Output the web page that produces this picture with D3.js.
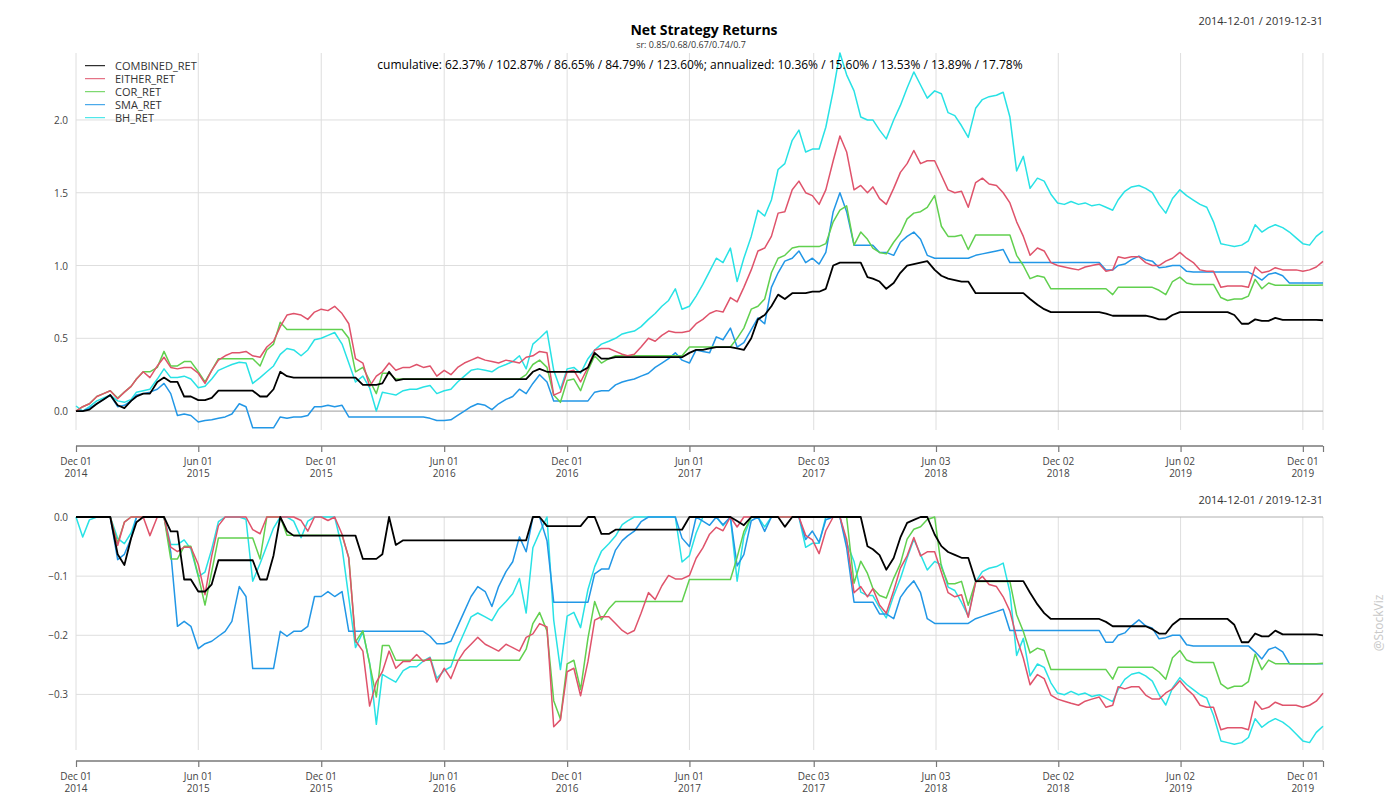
<!DOCTYPE html>
<html>
<head>
<meta charset="utf-8">
<script src="https://cdnjs.cloudflare.com/ajax/libs/d3/7.8.5/d3.min.js"></script>
<style>
body{margin:0;background:#fff;}
svg{display:block;font-family:"Open Sans","Noto Sans",sans-serif;}
</style>
</head>
<body>
<svg width="1400" height="800"></svg>
<script>
// sample dates (1st, 11th, 21st of every month)
var dates = [
"2014-12-01","2014-12-11","2014-12-21",
"2015-01-01","2015-01-11","2015-01-21","2015-02-01","2015-02-11","2015-02-21",
"2015-03-01","2015-03-11","2015-03-21","2015-04-01","2015-04-11","2015-04-21",
"2015-05-01","2015-05-11","2015-05-21","2015-06-01","2015-06-11","2015-06-21",
"2015-07-01","2015-07-11","2015-07-21","2015-08-01","2015-08-11","2015-08-21",
"2015-09-01","2015-09-11","2015-09-21","2015-10-01","2015-10-11","2015-10-21",
"2015-11-01","2015-11-11","2015-11-21","2015-12-01","2015-12-11","2015-12-21",
"2016-01-01","2016-01-11","2016-01-21","2016-02-01","2016-02-11","2016-02-21",
"2016-03-01","2016-03-11","2016-03-21","2016-04-01","2016-04-11","2016-04-21",
"2016-05-01","2016-05-11","2016-05-21","2016-06-01","2016-06-11","2016-06-21",
"2016-07-01","2016-07-11","2016-07-21","2016-08-01","2016-08-11","2016-08-21",
"2016-09-01","2016-09-11","2016-09-21","2016-10-01","2016-10-11","2016-10-21",
"2016-11-01","2016-11-11","2016-11-21","2016-12-01","2016-12-11","2016-12-21",
"2017-01-01","2017-01-11","2017-01-21","2017-02-01","2017-02-11","2017-02-21",
"2017-03-01","2017-03-11","2017-03-21","2017-04-01","2017-04-11","2017-04-21",
"2017-05-01","2017-05-11","2017-05-21","2017-06-01","2017-06-11","2017-06-21",
"2017-07-01","2017-07-11","2017-07-21","2017-08-01","2017-08-11","2017-08-21",
"2017-09-01","2017-09-11","2017-09-21","2017-10-01","2017-10-11","2017-10-21",
"2017-11-01","2017-11-11","2017-11-21","2017-12-01","2017-12-11","2017-12-21",
"2018-01-01","2018-01-11","2018-01-21","2018-02-01","2018-02-11","2018-02-21",
"2018-03-01","2018-03-11","2018-03-21","2018-04-01","2018-04-11","2018-04-21",
"2018-05-01","2018-05-11","2018-05-21","2018-06-01","2018-06-11","2018-06-21",
"2018-07-01","2018-07-11","2018-07-21","2018-08-01","2018-08-11","2018-08-21",
"2018-09-01","2018-09-11","2018-09-21","2018-10-01","2018-10-11","2018-10-21",
"2018-11-01","2018-11-11","2018-11-21","2018-12-01","2018-12-11","2018-12-21",
"2019-01-01","2019-01-11","2019-01-21","2019-02-01","2019-02-11","2019-02-21",
"2019-03-01","2019-03-11","2019-03-21","2019-04-01","2019-04-11","2019-04-21",
"2019-05-01","2019-05-11","2019-05-21","2019-06-01","2019-06-11","2019-06-21",
"2019-07-01","2019-07-11","2019-07-21","2019-08-01","2019-08-11","2019-08-21",
"2019-09-01","2019-09-11","2019-09-21","2019-10-01","2019-10-11","2019-10-21",
"2019-11-01","2019-11-11","2019-11-21","2019-12-01","2019-12-11","2019-12-21",
"2019-12-31"
];

// cumulative returns
var combinedRet = [
0.00,0.00,0.01,
0.05,0.08,0.11, 0.04,0.02,0.07, 0.10,0.12,0.12, 0.20,0.23,0.20, 0.20,0.10,0.10, 0.075,0.075,0.09,
0.14,0.14,0.14, 0.14,0.14,0.14, 0.10,0.10,0.15, 0.27,0.24,0.23, 0.23,0.23,0.23, 0.23,0.23,0.23,
0.23,0.23,0.23, 0.18,0.18,0.18, 0.19,0.27,0.21, 0.22,0.22,0.22, 0.22,0.22,0.22, 0.22,0.22,0.22,
0.22,0.22,0.22, 0.22,0.22,0.22, 0.22,0.22,0.22, 0.22,0.27,0.29, 0.27,0.27,0.27, 0.27,0.27,0.27,
0.30,0.40,0.36, 0.36,0.37,0.37, 0.37,0.37,0.37, 0.37,0.37,0.37, 0.37,0.37,0.37, 0.40,0.42,0.42,
0.43,0.44,0.44, 0.44,0.43,0.42, 0.50,0.63,0.66, 0.72,0.80,0.77, 0.81,0.81,0.81, 0.82,0.82,0.84,
1.00,1.02,1.02, 1.02,1.02,0.92, 0.91,0.89,0.84, 0.88,0.95,1.00, 1.01,1.02,1.03, 0.97,0.93,0.91,
0.90,0.89,0.89, 0.81,0.81,0.81, 0.81,0.81,0.81, 0.81,0.81,0.77, 0.73,0.70,0.68, 0.68,0.68,0.68,
0.68,0.68,0.68, 0.68,0.67,0.655, 0.655,0.655,0.655, 0.655,0.655,0.645, 0.63,0.63,0.66, 0.68,0.68,0.68,
0.68,0.68,0.68, 0.68,0.68,0.66, 0.60,0.60,0.63, 0.62,0.62,0.64, 0.627,0.627,0.627, 0.627,0.627,0.627,
0.624
];
var eitherRet = [
0.00,0.03,0.05,
0.10,0.12,0.14, 0.085,0.13,0.17, 0.22,0.27,0.23, 0.31,0.37,0.30, 0.29,0.30,0.30, 0.26,0.19,0.28,
0.35,0.38,0.40, 0.40,0.41,0.38, 0.37,0.44,0.48, 0.58,0.66,0.67, 0.66,0.63,0.68, 0.70,0.69,0.72,
0.67,0.60,0.36, 0.33,0.17,0.24, 0.27,0.33,0.28, 0.30,0.30,0.32, 0.30,0.31,0.24, 0.28,0.25,0.30,
0.33,0.35,0.37, 0.35,0.34,0.33, 0.35,0.34,0.33, 0.37,0.38,0.41, 0.40,0.11,0.13, 0.27,0.28,0.20,
0.30,0.42,0.43, 0.43,0.41,0.39, 0.38,0.39,0.44, 0.50,0.48,0.52, 0.55,0.54,0.54, 0.55,0.60,0.63,
0.67,0.69,0.68, 0.78,0.75,0.85, 0.97,1.10,1.12, 1.20,1.36,1.37, 1.52,1.58,1.50, 1.48,1.42,1.52,
1.72,1.89,1.78, 1.52,1.55,1.50, 1.54,1.46,1.42, 1.53,1.64,1.70, 1.79,1.70,1.72, 1.72,1.62,1.52,
1.50,1.51,1.40, 1.57,1.60,1.56, 1.55,1.50,1.43, 1.30,1.20,1.07, 1.12,1.10,1.02, 1.00,0.99,0.98,
0.97,0.99,1.00, 1.01,0.96,0.97, 1.06,1.05,1.06, 1.06,1.02,1.00, 1.00,1.03,1.05, 1.09,1.05,1.02,
0.97,0.96,0.96, 0.85,0.86,0.86, 0.86,0.85,0.99, 0.95,0.96,0.985, 0.97,0.97,0.97, 0.96,0.97,0.99,
1.0287
];
var corRet = [
0.00,0.03,0.05,
0.10,0.12,0.14, 0.09,0.13,0.17, 0.22,0.27,0.27, 0.30,0.41,0.31, 0.31,0.34,0.34, 0.27,0.20,0.28,
0.36,0.36,0.36, 0.36,0.36,0.36, 0.31,0.42,0.46, 0.61,0.56,0.56, 0.56,0.56,0.56, 0.56,0.56,0.56,
0.56,0.50,0.27, 0.30,0.21,0.12, 0.26,0.26,0.22, 0.22,0.22,0.22, 0.22,0.22,0.22, 0.22,0.22,0.22,
0.22,0.22,0.22, 0.22,0.22,0.22, 0.22,0.22,0.22, 0.25,0.32,0.35, 0.30,0.11,0.06, 0.21,0.22,0.14,
0.28,0.38,0.33, 0.36,0.38,0.38, 0.38,0.38,0.38, 0.38,0.38,0.38, 0.38,0.38,0.38, 0.44,0.44,0.44,
0.44,0.44,0.44, 0.44,0.50,0.57, 0.70,0.72,0.77, 0.95,1.05,1.07, 1.12,1.13,1.13, 1.13,1.13,1.15,
1.30,1.38,1.41, 1.14,1.23,1.18, 1.12,1.09,1.08, 1.16,1.22,1.32, 1.36,1.37,1.40, 1.48,1.27,1.20,
1.20,1.21,1.11, 1.21,1.21,1.21, 1.21,1.21,1.21, 1.07,1.00,0.91, 0.93,0.92,0.84, 0.84,0.84,0.84,
0.84,0.84,0.84, 0.84,0.84,0.80, 0.85,0.85,0.85, 0.85,0.85,0.85, 0.83,0.80,0.89, 0.92,0.88,0.87,
0.87,0.87,0.87, 0.78,0.76,0.77, 0.77,0.79,0.905, 0.84,0.88,0.865, 0.865,0.865,0.865, 0.865,0.865,0.865,
0.8665
];
var smaRet = [
0.00,0.00,0.02,
0.05,0.08,0.11, 0.03,0.04,0.07, 0.11,0.12,0.13, 0.15,0.19,0.12, -0.03,-0.02,-0.03, -0.075,-0.065,-0.06,
-0.05,-0.04,-0.02, 0.05,0.03,-0.115, -0.115,-0.115,-0.115, -0.04,-0.05,-0.04, -0.04,-0.03,0.03, 0.03,0.04,0.03,
0.04,-0.04,-0.04, -0.04,-0.04,-0.04, -0.04,-0.04,-0.04, -0.04,-0.04,-0.04, -0.04,-0.05,-0.065, -0.065,-0.06,-0.03,
0.00,0.03,0.05, 0.04,0.01,0.05, 0.08,0.10,0.15, 0.12,0.19,0.25, 0.20,0.07,0.07, 0.07,0.07,0.07,
0.07,0.13,0.14, 0.14,0.18,0.20, 0.21,0.22,0.24, 0.26,0.30,0.33, 0.36,0.40,0.35, 0.33,0.42,0.41,
0.40,0.51,0.49, 0.57,0.44,0.47, 0.56,0.64,0.60, 0.85,0.95,1.03, 1.05,1.10,1.02, 1.05,1.01,1.09,
1.37,1.50,1.37, 1.14,1.14,1.14, 1.14,1.09,1.09, 1.07,1.16,1.20, 1.23,1.18,1.07, 1.05,1.05,1.05,
1.05,1.05,1.05, 1.07,1.08,1.09, 1.10,1.11,1.02, 1.02,1.02,1.02, 1.02,1.02,1.02, 1.02,1.02,1.02,
1.02,1.02,1.02, 1.02,0.97,0.97, 1.00,1.01,1.04, 1.065,1.04,1.03, 0.985,0.99,1.00, 1.00,0.96,0.955,
0.955,0.955,0.955, 0.955,0.955,0.955, 0.955,0.955,0.93, 0.90,0.94,0.95, 0.93,0.88,0.88, 0.88,0.88,0.88,
0.88
];
var bhRet = [
0.035,0.00,0.03,
0.07,0.09,0.11, 0.07,0.06,0.08, 0.13,0.14,0.15, 0.22,0.29,0.23, 0.23,0.24,0.22, 0.16,0.17,0.22,
0.28,0.30,0.32, 0.335,0.33,0.19, 0.23,0.27,0.31, 0.39,0.43,0.42, 0.38,0.42,0.49, 0.50,0.52,0.54,
0.46,0.33,0.20, 0.24,0.16,0.00, 0.13,0.12,0.11, 0.14,0.15,0.15, 0.165,0.175,0.12, 0.14,0.15,0.20,
0.24,0.28,0.29, 0.28,0.27,0.30, 0.32,0.34,0.38, 0.29,0.46,0.50, 0.55,0.28,0.15, 0.29,0.30,0.26,
0.36,0.42,0.46, 0.48,0.50,0.53, 0.54,0.55,0.58, 0.63,0.67,0.72, 0.76,0.84,0.70, 0.72,0.79,0.87,
0.96,1.05,1.02, 1.12,0.89,1.05, 1.20,1.38,1.34, 1.45,1.66,1.70, 1.86,1.93,1.78, 1.80,1.80,1.95,
2.20,2.46,2.31, 2.20,2.02,2.00, 2.00,1.93,1.87, 2.00,2.10,2.22, 2.33,2.24,2.15, 2.20,2.18,2.05,
2.03,1.96,1.88, 2.08,2.14,2.16, 2.17,2.19,2.02, 1.65,1.75,1.53, 1.60,1.58,1.49, 1.43,1.42,1.44,
1.42,1.43,1.41, 1.42,1.40,1.38, 1.45,1.51,1.54, 1.55,1.53,1.50, 1.42,1.36,1.46, 1.52,1.48,1.45,
1.42,1.40,1.30, 1.15,1.14,1.13, 1.14,1.17,1.28, 1.23,1.26,1.28, 1.26,1.23,1.19, 1.15,1.14,1.20,
1.236
];

var seriesNames = ["COMBINED_RET","EITHER_RET","COR_RET","SMA_RET","BH_RET"];
var seriesValues = [combinedRet, eitherRet, corRet, smaRet, bhRet];
var seriesColors = ["#000000","#DF536B","#61D04F","#2297E6","#28E2E5"];

var tickDates = ["2014-12-01","2015-06-01","2015-12-01","2016-06-01","2016-12-01","2017-06-01",
                 "2017-12-03","2018-06-03","2018-12-02","2019-06-02","2019-12-01"];
var tickDay = ["Dec 01","Jun 01","Dec 01","Jun 01","Dec 01","Jun 01","Dec 03","Jun 03","Dec 02","Jun 02","Dec 01"];
var tickYear = ["2014","2015","2015","2016","2016","2017","2017","2018","2018","2019","2019"];
var topTicks = [0.0, 0.5, 1.0, 1.5, 2.0];
var ddTicks = [0.0, -0.1, -0.2, -0.3];

var titleText = "Net Strategy Returns";
var subText = "sr: 0.85/0.68/0.67/0.74/0.7";
var statText = "cumulative: 62.37% / 102.87% / 86.65% / 84.79% / 123.60%; annualized: 10.36% / 15.60% / 13.53% / 13.89% / 17.78%";
var rangeText = "2014-12-01 / 2019-12-31";

var parse = d3.timeParse("%Y-%m-%d");
var svg = d3.select("svg");

var x = d3.scaleTime()
    .domain([parse(dates[0]), parse(dates[dates.length-1])])
    .range([76, 1323]);

var yTop = d3.scaleLinear().domain([-0.13, 2.46]).range([430, 53]);
var yDd = d3.scaleLinear().domain([-0.394, 0]).range([750, 517]);

// drawdown from the cumulative series
function drawdown(vals)
{
    var peak = 1, out = [];
    for (var i = 0; i < vals.length; i++) {
        var w = 1 + vals[i];
        if (w > peak) peak = w;
        out.push(w / peak - 1);
    }
    return out;
}

function panel(y, ticks, top, bottom, axisY, rangeY, fmt)
{
    const g = svg.append("g");

    // vertical grid
    g.selectAll(".vg").data(tickDates.concat([dates[dates.length-1]]))
        .enter().append("line")
        .attr("x1", d => x(parse(d))).attr("x2", d => x(parse(d)))
        .attr("y1", top).attr("y2", bottom)
        .attr("stroke", "#dedede").attr("stroke-width", 1);

    // horizontal grid
    g.selectAll(".hg").data(ticks)
        .enter().append("line")
        .attr("x1", 76).attr("x2", 1323)
        .attr("y1", d => y(d)).attr("y2", d => y(d))
        .attr("stroke", d => d === 0 ? "#b0b0b0" : "#dedede")
        .attr("stroke-width", d => d === 0 ? 1.2 : 1);

    g.selectAll(".yl").data(ticks)
        .enter().append("text")
        .attr("x", 68).attr("y", d => y(d))
        .attr("text-anchor", "end")
        .attr("dominant-baseline", "central")
        .attr("font-size", "10px")
        .attr("fill", "#444")
        .text(d => fmt(d));

    // x axis
    const ax = d3.axisBottom(x)
        .tickValues(tickDates.map(parse).concat([parse(dates[dates.length-1])]))
        .tickSize(6)
        .tickFormat("");
    const a = svg.append("g")
        .attr("transform", `translate(0,${axisY})`)
        .call(ax);
    a.select(".domain").attr("stroke", "#9a9a9a").attr("stroke-width", 2).attr("d", "M76,0H1323");
    a.selectAll(".tick line").attr("stroke", "#777").attr("stroke-width", 1.2);

    g.selectAll(".xl1").data(tickDates)
        .enter().append("text")
        .attr("x", d => x(parse(d))).attr("y", axisY + 15)
        .attr("text-anchor", "middle").attr("dominant-baseline", "central")
        .attr("font-size", "10px").attr("fill", "#444")
        .text((d, i) => tickDay[i]);
    g.selectAll(".xl2").data(tickDates)
        .enter().append("text")
        .attr("x", d => x(parse(d))).attr("y", axisY + 27)
        .attr("text-anchor", "middle").attr("dominant-baseline", "central")
        .attr("font-size", "10px").attr("fill", "#444")
        .text((d, i) => tickYear[i]);

    svg.append("text")
        .attr("x", 1323).attr("y", rangeY)
        .attr("text-anchor", "end").attr("dominant-baseline", "central")
        .attr("font-size", "11px").attr("fill", "#333")
        .text(rangeText);
}

function drawLines(y, sets)
{
    for (var k = sets.length - 1; k >= 0; k--) {
        const vals = sets[k];
        const line = d3.line()
            .x((d, i) => x(parse(dates[i])))
            .y(d => y(d));
        svg.append("path")
            .attr("d", line(vals))
            .attr("fill", "none")
            .attr("stroke", seriesColors[k])
            .attr("stroke-width", k === 0 ? 1.8 : 1.5)
            .attr("stroke-linejoin", "round");
    }
}

panel(yTop, topTicks, 53, 430, 446, 20, d3.format(".1f"));
panel(yDd, ddTicks, 517, 750, 761, 499, d => d === 0 ? "0.0" : d3.format(".1f")(d));

drawLines(yTop, seriesValues);
drawLines(yDd, seriesValues.map(drawdown));

// titles
svg.append("text")
    .attr("x", 704).attr("y", 29)
    .attr("text-anchor", "middle").attr("dominant-baseline", "central")
    .attr("font-size", "14px").style("font-weight", "bold").attr("fill", "#000")
    .text(titleText);
svg.append("text")
    .attr("x", 691).attr("y", 44)
    .attr("text-anchor", "middle").attr("dominant-baseline", "central")
    .attr("font-size", "9px").attr("fill", "#333")
    .text(subText);
svg.append("text")
    .attr("x", 700).attr("y", 64)
    .attr("text-anchor", "middle").attr("dominant-baseline", "central")
    .attr("font-size", "12px").attr("fill", "#000")
    .text(statText);

// legend
const lg = svg.append("g");
seriesNames.forEach(function(name, i) {
    const yy = 65.7 + i * 13;
    lg.append("line")
        .attr("x1", 85).attr("x2", 105).attr("y1", yy).attr("y2", yy)
        .attr("stroke", seriesColors[i]).attr("stroke-width", 1);
    lg.append("text")
        .attr("x", 115).attr("y", yy)
        .attr("dominant-baseline", "central")
        .attr("font-size", "11px").attr("fill", "#333")
        .text(name);
});

// watermark
svg.append("text")
    .attr("transform", "translate(1378,623) rotate(-90)")
    .attr("text-anchor", "middle").attr("dominant-baseline", "central")
    .attr("font-size", "12px").attr("fill", "#c8c8c8")
    .text("@StockViz");
</script>
</body>
</html>
